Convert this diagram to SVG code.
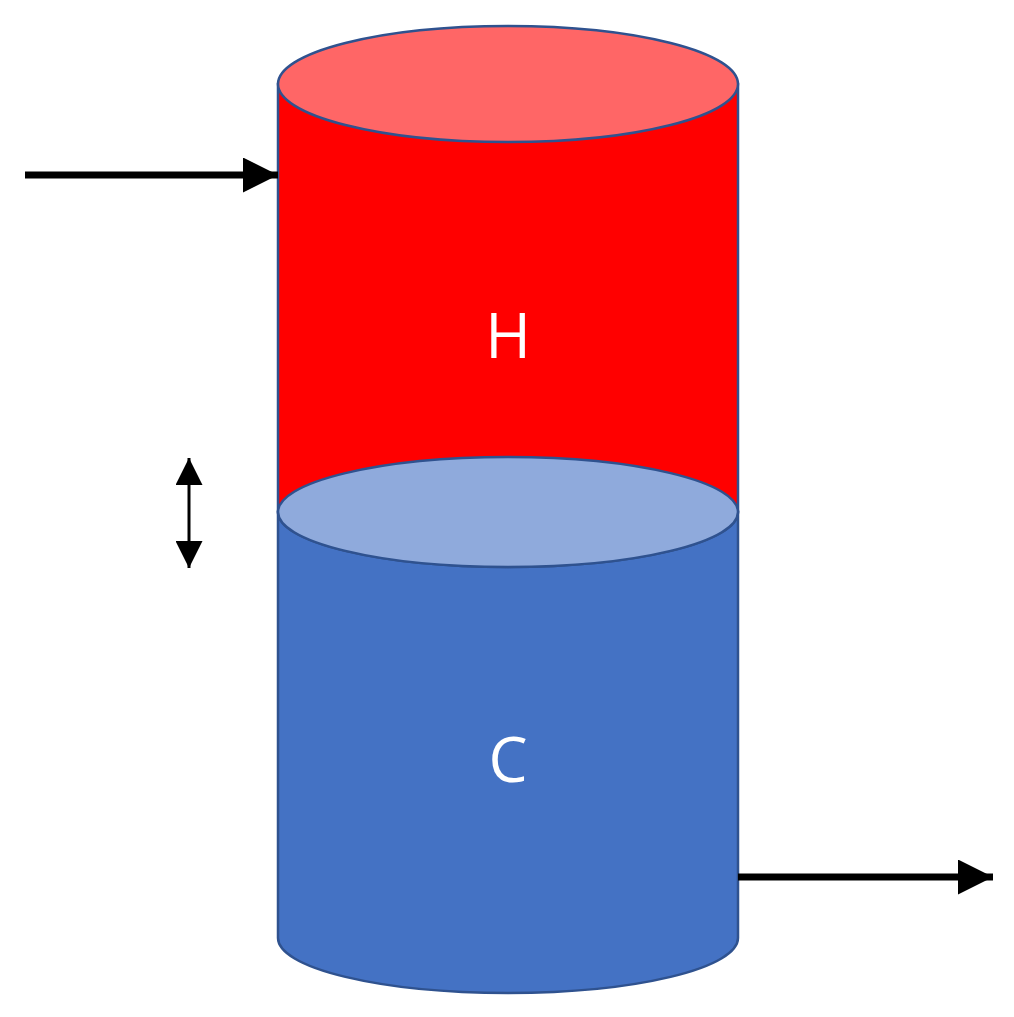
<svg xmlns="http://www.w3.org/2000/svg" width="1014" height="1017" viewBox="0 0 1014 1017">
<style>
.edge{stroke:#2F528F;stroke-width:2.5}
.lbl{font-family:"Open Sans","DejaVu Sans",sans-serif;font-size:62px;fill:#fff;text-anchor:middle}
.arr{stroke:#000;stroke-width:7;fill:none}
</style>
<defs>
<marker id="big" viewBox="0 0 10 10" refX="10" refY="5" markerWidth="5" markerHeight="5" orient="auto" markerUnits="strokeWidth"><path d="M0,0L10,5L0,10z" fill="#000"/></marker>
<marker id="sm" viewBox="0 0 10 10" refX="10" refY="5" markerWidth="9" markerHeight="9" orient="auto-start-reverse" markerUnits="strokeWidth"><path d="M0,0L10,5L0,10z" fill="#000"/></marker>
</defs>
<rect width="1014" height="1017" fill="#fff"/>
<g id="cold">
<path class="edge" d="M278,512 L278,938 A230,55 0 0 0 738,938 L738,512 Z" fill="#4472C4"/>
<text class="lbl" x="508" y="782">C</text>
</g>
<g id="hot">
<path class="edge" d="M278,84 L278,512 A230,55 0 0 0 738,512 L738,84 Z" fill="#FF0000"/>
<ellipse class="edge" cx="508" cy="84" rx="230" ry="58" fill="#FF6666"/>
<text class="lbl" x="508" y="358">H</text>
</g>
<g id="interface">
<ellipse class="edge" cx="508" cy="512" rx="230" ry="55" fill="#8FAADC"/>
</g>
<g id="connectors">
<line class="arr" x1="25" y1="175" x2="278" y2="175" marker-end="url(#big)"/>
<line class="arr" x1="738" y1="877" x2="993" y2="877" marker-end="url(#big)"/>
<line x1="189" y1="458" x2="189" y2="568" stroke="#000" stroke-width="3" marker-start="url(#sm)" marker-end="url(#sm)"/>
</g>
</svg>
